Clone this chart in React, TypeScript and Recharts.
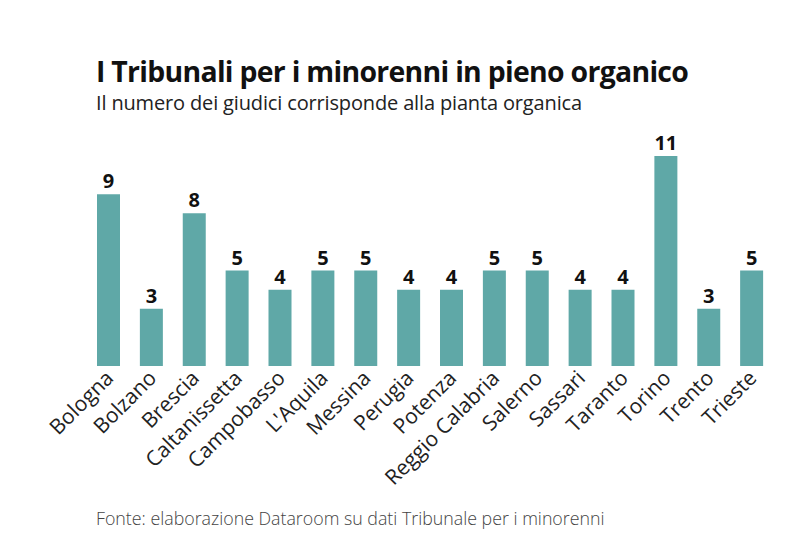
import React from "react";
import { BarChart, Bar, XAxis, YAxis, LabelList } from "recharts";

const cities = ["Bologna", "Bolzano", "Brescia", "Caltanissetta", "Campobasso", "L'Aquila", "Messina", "Perugia", "Potenza", "Reggio Calabria", "Salerno", "Sassari", "Taranto", "Torino", "Trento", "Trieste"];
const judges = [9, 3, 8, 5, 4, 5, 5, 4, 4, 5, 5, 4, 4, 11, 3, 5];

const data = cities.map((c, i) => ({ city: c, value: judges[i] }));

const FONT = "'Open Sans', sans-serif";

const Tick = (props: any) => {
  const { x, y, payload } = props;
  return (
    <g transform={`translate(${x - 4},${y - 5})`}>
      <text x={0} y={0} dy="0.7em" textAnchor="end" transform="rotate(-45)" fontFamily={FONT} fontSize={21} fill="#222">
        {payload.value}
      </text>
    </g>
  );
};

export default function App() {
  return (
    <div style={{ position: "absolute", left: 0, top: 0, width: 800, height: 542, background: "#fff", fontFamily: FONT }}>
      <div style={{ position: "absolute", left: 96, top: 52, fontSize: 28.4, fontWeight: 700, color: "#111", letterSpacing: -0.7, whiteSpace: "nowrap" }}>
        I Tribunali per i minorenni in pieno organico
      </div>
      <div style={{ position: "absolute", left: 96, top: 89, fontSize: 20, fontWeight: 400, color: "#222", letterSpacing: -0.15, whiteSpace: "nowrap" }}>
        Il numero dei giudici corrisponde alla pianta organica
      </div>
      <div style={{ position: "absolute", left: 96, top: 506, fontSize: 17.8, fontWeight: 300, color: "#444", whiteSpace: "nowrap" }}>
        Fonte: elaborazione Dataroom su dati Tribunale per i minorenni
      </div>
      <div style={{ position: "absolute", left: 0, top: 0 }}>
        <BarChart width={800} height={542} data={data} margin={{ top: 156, right: 27, bottom: 146, left: 87 }}>
          <XAxis dataKey="city" interval={0} axisLine={false} tickLine={false} tick={<Tick />} height={30} />
          <YAxis hide domain={[0, 11]} />
          <Bar dataKey="value" fill="#5fa8a7" barSize={23} isAnimationActive={false}>
            <LabelList dataKey="value" position="top" offset={6} fontFamily={FONT} fontWeight={700} fontSize={20} fill="#111" />
          </Bar>
        </BarChart>
      </div>
    </div>
  );
}
